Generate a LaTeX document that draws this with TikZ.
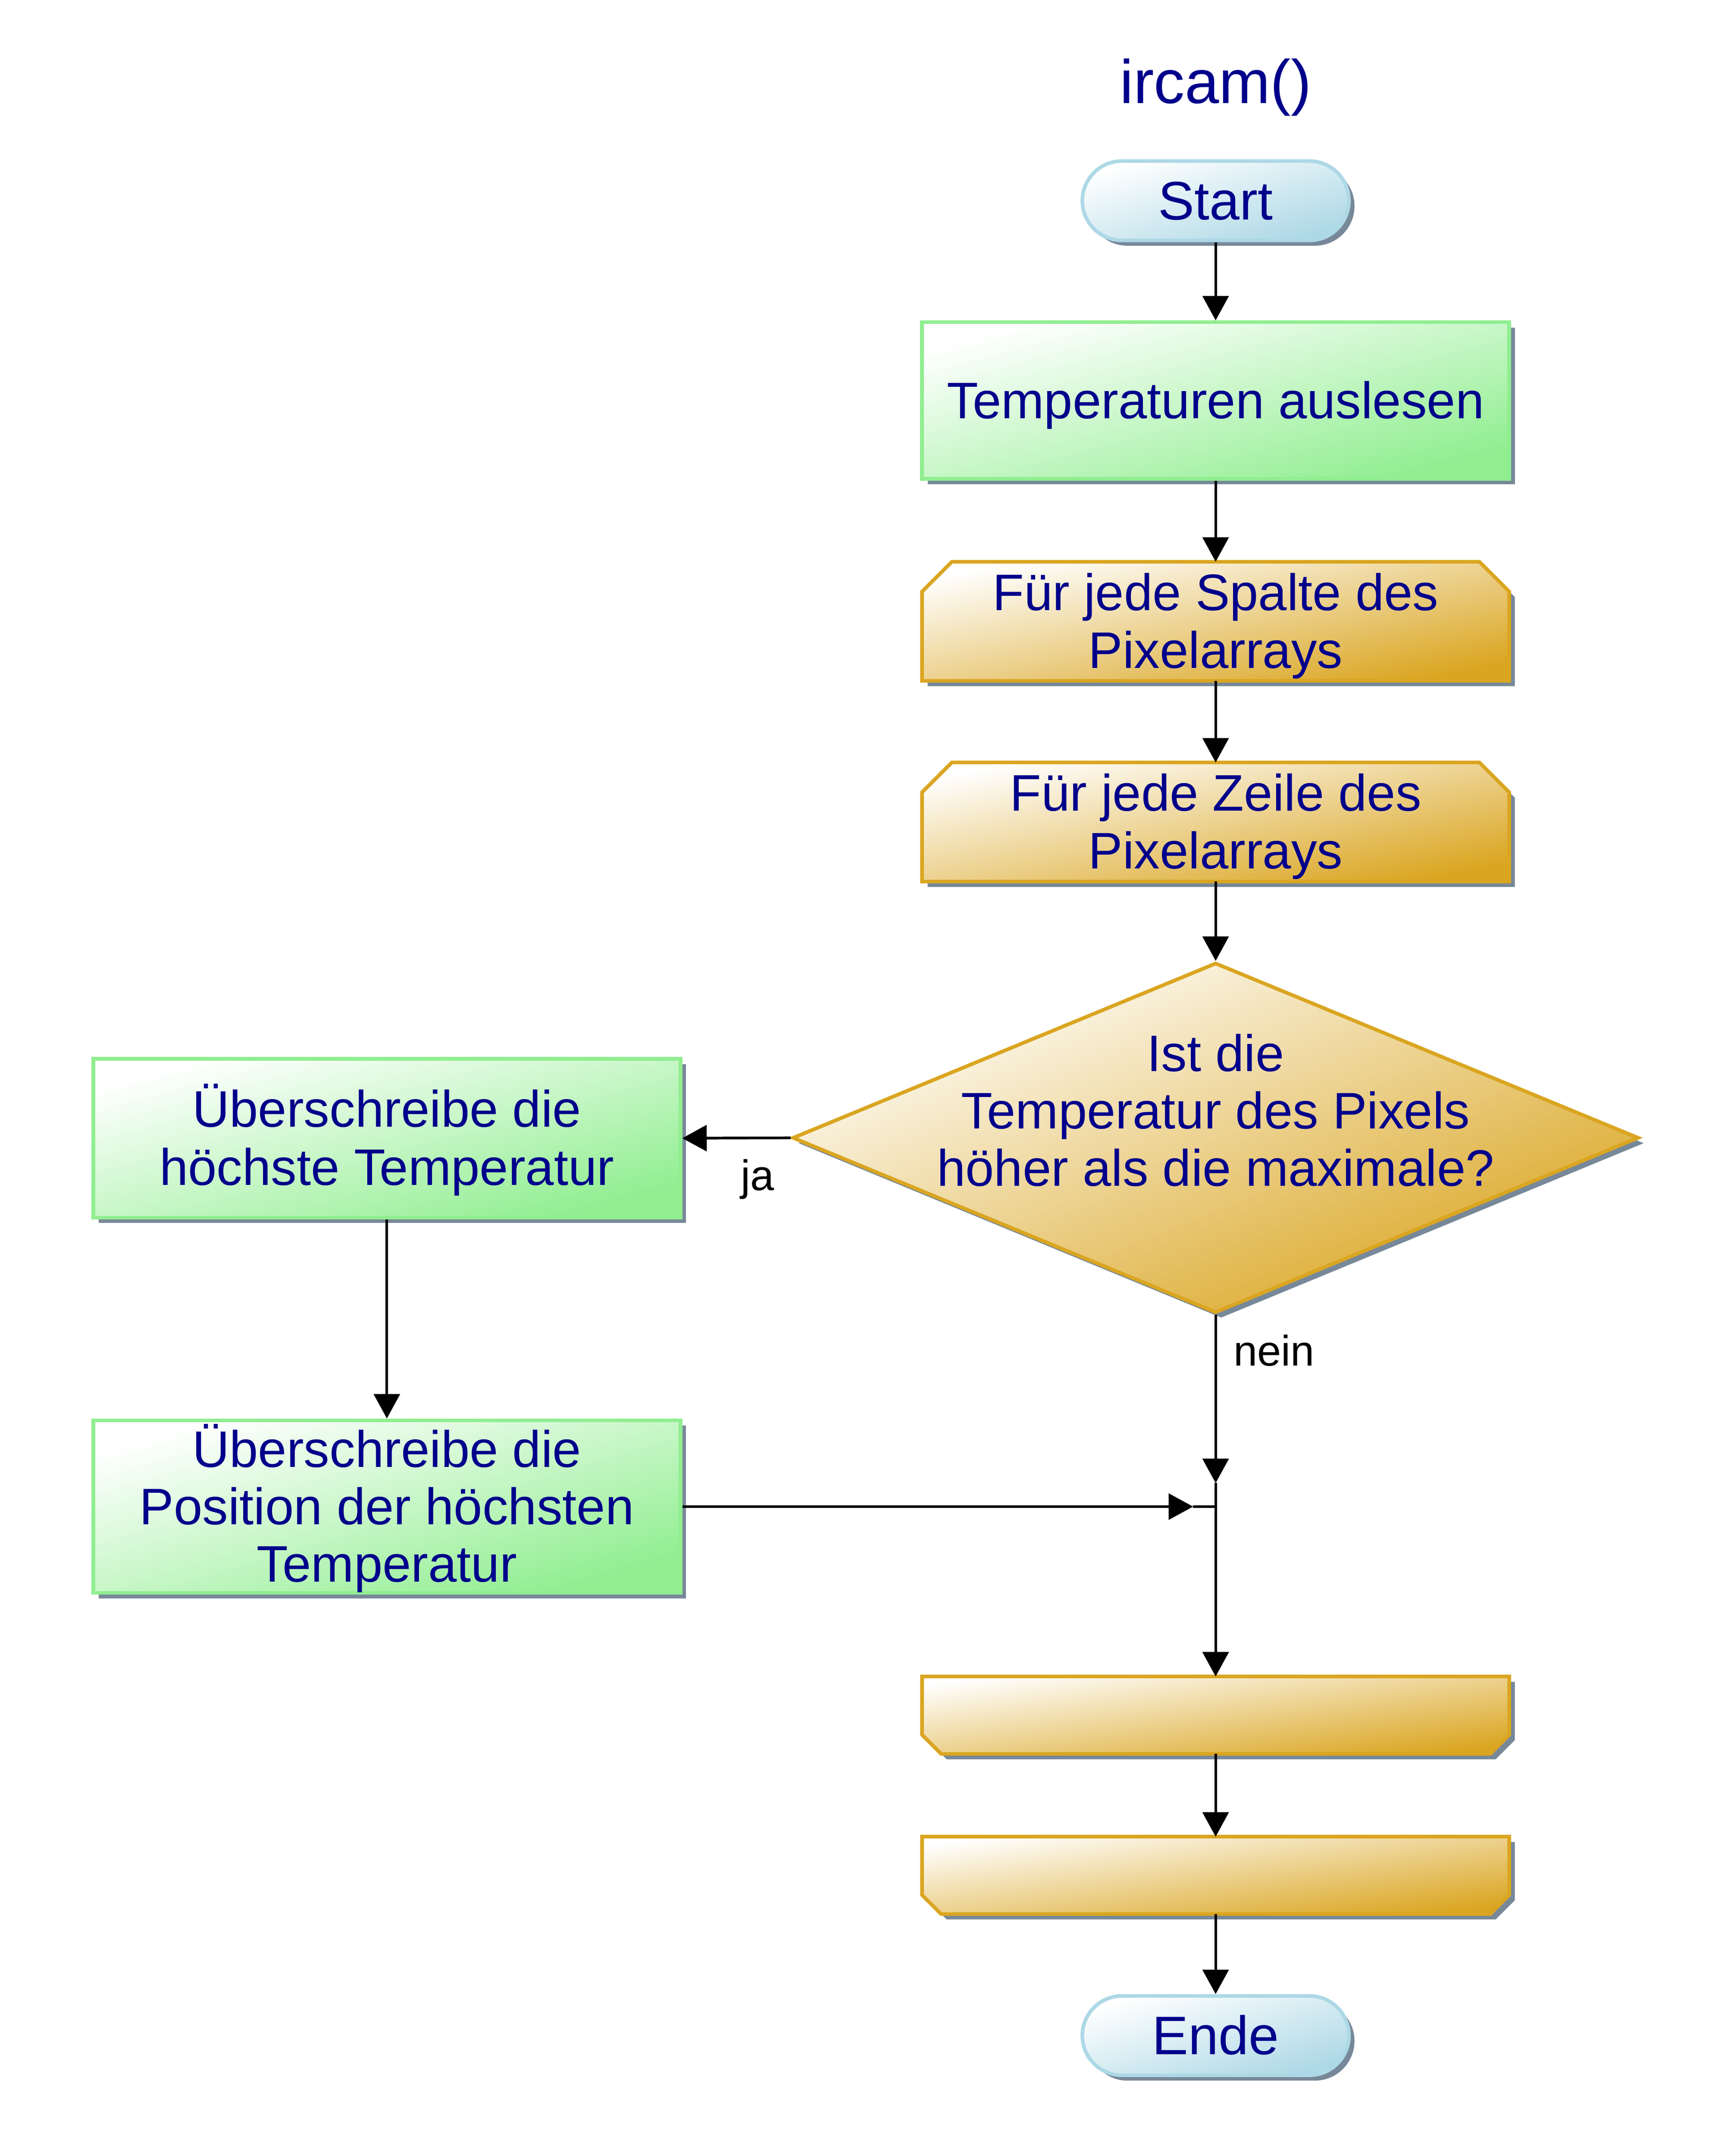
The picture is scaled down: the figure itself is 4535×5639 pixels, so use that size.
\documentclass[tikz,border=0pt]{standalone}
\usepackage{fontspec}
\setmainfont{Liberation Sans}
\usetikzlibrary{shapes.geometric,shapes.misc,shadows,arrows.meta,backgrounds}
\definecolor{txtc}{HTML}{00008B}
\definecolor{termc}{HTML}{ADD8E6}
\definecolor{greenc}{HTML}{90EE90}
\definecolor{goldc}{HTML}{DAA520}
\definecolor{shadowc}{HTML}{778899}
\newcommand\lstrut{\rule[-0.212em]{0pt}{1.117em}}
\newcommand\loopstartpath[3]{\path[loopshape, shading angle=#3] (#1.south west) -- ([yshift=-#2]#1.north west) -- ([xshift=#2]#1.north west) -- ([xshift=-#2]#1.north east) -- ([yshift=-#2]#1.north east) -- (#1.south east) -- cycle;}
\newcommand\loopendpath[3]{\path[loopshape, shading angle=#3] (#1.north west) -- (#1.north east) -- ([yshift=#2]#1.south east) -- ([xshift=-#2]#1.south east) -- ([xshift=#2]#1.south west) -- ([yshift=#2]#1.south west) -- cycle;}
\tikzset{
  shadowed/.style={drop shadow={shadow xshift=14.5pt, shadow yshift=-14pt, fill=shadowc, opacity=1}},
  boxtext/.style={text=txtc, font=\fontsize{134.5pt}{150pt}\selectfont, align=center},
  terminal/.style={rounded rectangle, draw=termc, line width=9.5pt, top color=white, bottom color=termc,
    shading angle=16.52, shadowed, minimum width=697.5pt, minimum height=207.5pt, inner sep=0pt, boxtext,
    font=\fontsize{142pt}{150pt}\selectfont},
  process/.style={rectangle, draw=greenc, line width=9.5pt, top color=white, bottom color=greenc,
    shadowed, minimum width=1536pt, inner sep=0pt, boxtext},
  looptext/.style={rectangle, minimum width=1536pt, inner sep=0pt, outer sep=0pt, boxtext},
  loopshape/.style={draw=goldc, line width=9.5pt, top color=white, bottom color=goldc, shadowed},
  decision/.style={diamond, draw=goldc, line width=9.5pt, top color=white, bottom color=goldc,
    shading angle=22.48, shadowed, minimum width=2214pt, minimum height=916pt, inner sep=0pt},
  dectext/.style={boxtext, inner sep=0pt},
  titletext/.style={text=txtc, font=\fontsize{161pt}{180pt}\selectfont, inner sep=0pt, anchor=base},
  lbl/.style={text=black, font=\fontsize{112pt}{130pt}\selectfont, inner sep=0pt, anchor=base},
  arr/.style={draw=black, line width=7pt, -{Triangle[length=64pt, width=68pt]}},
  link/.style={draw=black, line width=7pt},
}
\begin{document}
\begin{tikzpicture}[x=1pt,y=-1pt]
\begin{scope}[on background layer]
  \fill[white] (0,0) rectangle (4535,5639);
\end{scope}
\useasboundingbox (0,0) rectangle (4535,5639);

\node[titletext] (title) at (3180,270) {ircam()};
\node[terminal] (start) at (3180,525) {\lstrut Start\lstrut};
\node[process, minimum height=409.5pt, shading angle=14.94] (temp) at (3180,1047.5) {\lstrut Temperaturen auslesen\lstrut};
\node[looptext, minimum height=311.5pt] (l1) at (3180,1625) {\lstrut Für jede Spalte des\\Pixelarrays\lstrut};
\node[looptext, minimum height=311.5pt] (l2) at (3180,2150) {\lstrut Für jede Zeile des\\Pixelarrays\lstrut};
\node[decision] (dec) at (3180,2976) {};
\node[dectext] (dect) at (3180,2905) {\lstrut Ist die\\Temperatur des Pixels\\höher als die maximale?\lstrut};
\node[process, minimum height=415.5pt, shading angle=15.13] (b1) at (1012,2977) {\lstrut Überschreibe die\\höchste Temperatur\lstrut};
\node[process, minimum height=451.5pt, shading angle=16.38] (b2) at (1012,3940.5) {\lstrut Überschreibe die\\Position der höchsten\\Temperatur\lstrut};
\coordinate (j) at (3180,3940.5);
\coordinate (jv) at (3180,3879);
\coordinate (jh) at (3121,3940.5);
\node[looptext, minimum height=202.5pt] (le1) at (3180,4486) {};
\node[looptext, minimum height=202.5pt] (le2) at (3180,4905) {};
\node[terminal] (ende) at (3180,5324) {\lstrut Ende\lstrut};
\node[lbl] (ja) at (1982,3113) {ja};
\node[lbl] (nein) at (3333,3572) {nein};

\begin{scope}[on background layer]
  \loopstartpath{l1}{78pt}{11.46}
  \loopstartpath{l2}{78pt}{11.46}
  \loopendpath{le1}{50pt}{7.51}
  \loopendpath{le2}{50pt}{7.51}
\end{scope}

\draw[arr] (start) -- (temp);
\draw[arr] (temp) -- (l1);
\draw[arr] (l1) -- (l2);
\draw[arr] (l2) -- (dec);
\draw[arr] (dec.west) -- (b1.east);
\draw[arr] (b1) -- (b2);
\draw[arr] (dec.south) -- (jv);
\draw[arr] (b2.east) -- (jh);
\draw[link] (jh) -- (j);
\draw[arr] (jv) -- (le1.north);
\draw[arr] (le1) -- (le2);
\draw[arr] (le2) -- (ende);
\end{tikzpicture}
\end{document}
